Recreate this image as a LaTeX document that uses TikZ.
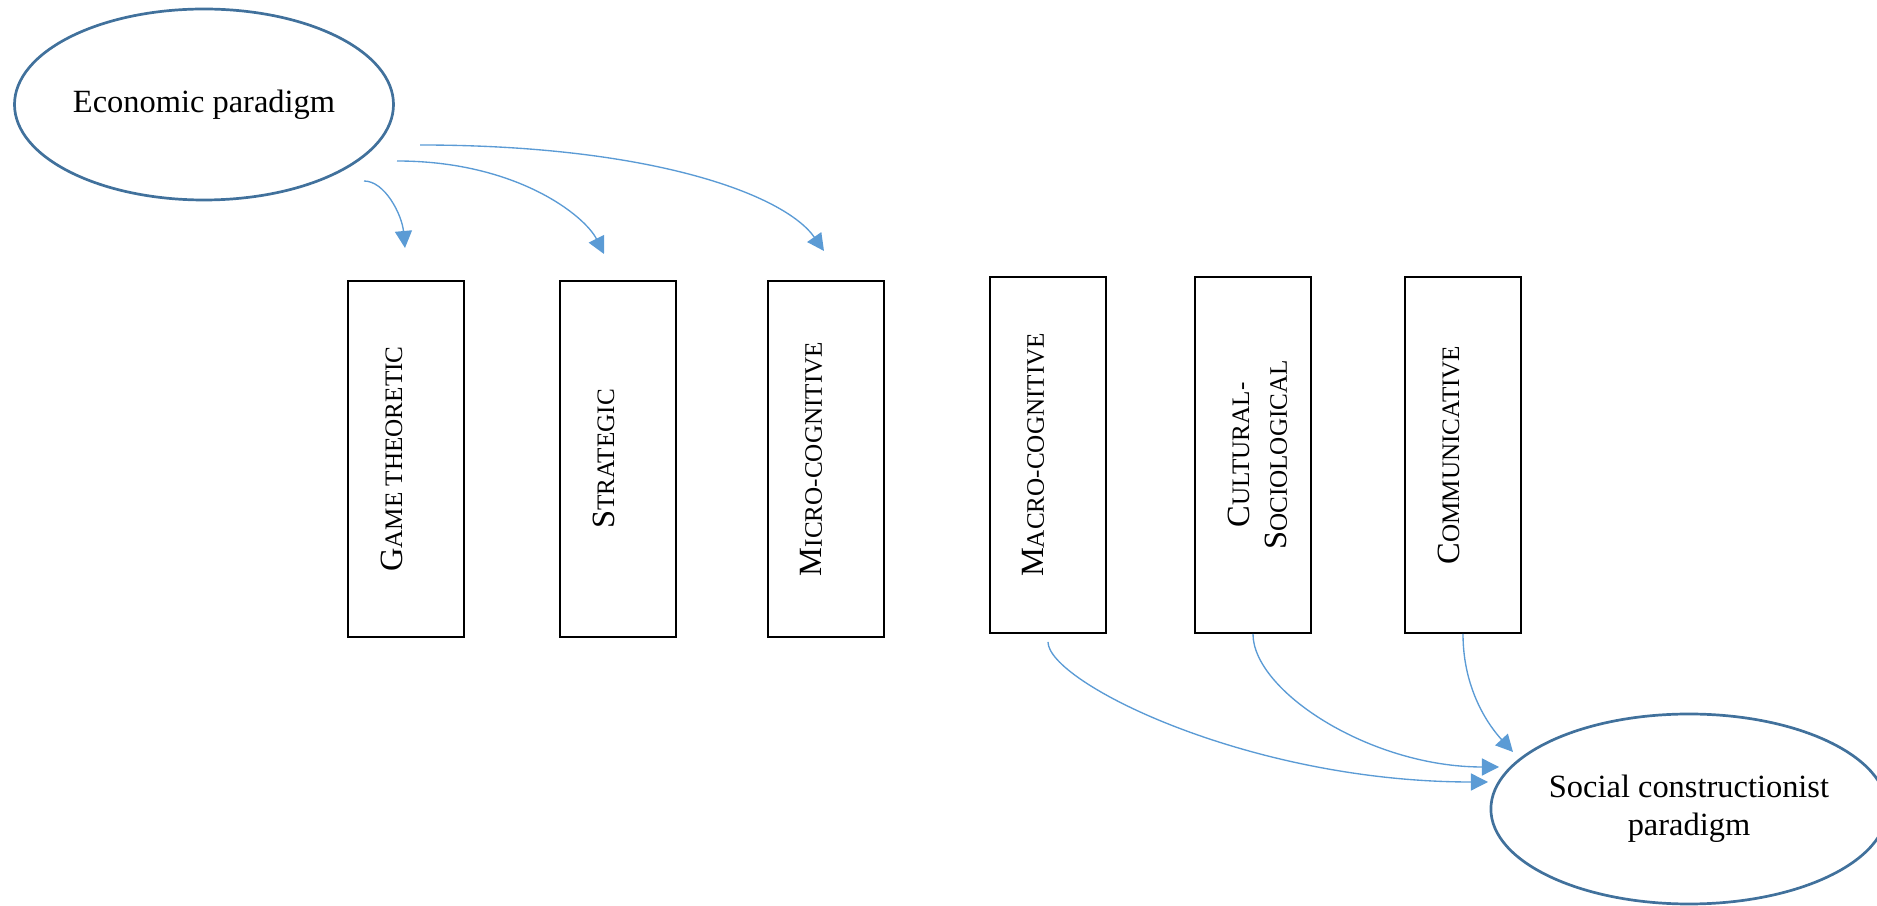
\documentclass[tikz,border=0pt]{standalone}
\usepackage{fontspec}
\setmainfont{Liberation Serif}
\usetikzlibrary{shapes.geometric,arrows.meta,calc}
\definecolor{paraline}{HTML}{41719C}
\definecolor{flowline}{HTML}{5B9BD5}
\newcommand{\smc}[2]{#1{\fontsize{9.3}{11}\selectfont #2}}

\begin{document}
\begin{tikzpicture}[x=0.37pt,y=-0.37pt,para/.style={shape=ellipse,draw=paraline,line width=1pt,inner sep=0pt,align=center,font=\fontsize{12}{14}\selectfont},appr/.style={shape=rectangle,draw=black,line width=0.7pt,minimum width=116*\px,minimum height=356*\px},apprl/.style={rotate=90,anchor=north,inner sep=0pt,align=center,font=\fontsize{12}{14}\selectfont},flow/.style={color=flowline,line width=0.5pt,-{Triangle[length=6.3pt,width=6.3pt]}}]
\def\px{0.37pt}
\def\ins{33}
\def\ya{459}
\def\yb{455}

\useasboundingbox (0,0) rectangle (1877,906);

\node[para,minimum width=379*\px,minimum height=191*\px] (E) at (204,104.5) {Economic paradigm};
\node[para,minimum width=372*\px,minimum height=190*\px] (S) at (1689,809) {Social constructionist\\paradigm};

\node[appr] (g1) at (406,\ya) {};
\node[apprl] (g1t) at ($(g1.west)+(\ins,0)$) {\smc{G}{AME THEORETIC}};
\node[appr] (g2) at (618,\ya) {};
\node[apprl] (g2t) at ($(g2.west)+(\ins,0)$) {\smc{S}{TRATEGIC}};
\node[appr] (g3) at (826,\ya) {};
\node[apprl] (g3t) at ($(g3.west)+(\ins,0)$) {\smc{M}{ICRO-COGNITIVE}};

\node[appr] (g4) at (1048,\yb) {};
\node[apprl] (g4t) at ($(g4.west)+(\ins,0)$) {\smc{M}{ACRO-COGNITIVE}};
\node[appr] (g5) at (1253,\yb) {};
\node[apprl] (g5t) at ($(g5.west)+(\ins,0)$) {\smc{C}{ULTURAL-}\\\smc{S}{OCIOLOGICAL}};
\node[appr] (g6) at (1463,\yb) {};
\node[apprl] (g6t) at ($(g6.west)+(\ins,0)$) {\smc{C}{OMMUNICATIVE}};

\coordinate (s1) at (364,181);
\coordinate (s2) at (397,161);
\coordinate (s3) at (420,145);
\coordinate (t1) at (405,248);
\coordinate (t2) at (604,254);
\coordinate (t3) at (824,251);
\draw[flow] (s1) .. controls +(21,0) and +(-3,-33) .. (t1);
\draw[flow] (s2) .. controls +(120,0) and +(-19,-38) .. (t2);
\draw[flow] (s3) .. controls +(230,0) and +(-40,-57) .. (t3);

\coordinate (e1) at (1488,782);
\coordinate (e2) at (1499,767);
\coordinate (e3) at (1513,752);
\draw[flow] ($(g4.south)+(0,8)$) .. controls +(0,40) and +(-240,0) .. (e1);
\draw[flow] (g5.south) .. controls +(0,57) and +(-129,0) .. (e2);
\draw[flow] (g6.south) .. controls +(0,57) and +(-23,-25) .. (e3);
\end{tikzpicture}
\end{document}
